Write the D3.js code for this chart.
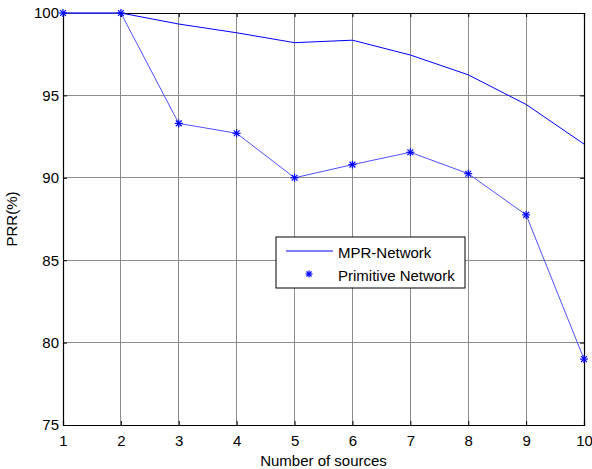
<!DOCTYPE html>
<html>
<head>
<meta charset="utf-8">
<script src="https://cdn.jsdelivr.net/npm/d3@7"></script>
<style>
  body { margin: 0; background: #fff; }
  text { font-family: "Liberation Sans", Arial, sans-serif; }
</style>
</head>
<body>
<script>
// chart data
const sources = [1, 2, 3, 4, 5, 6, 7, 8, 9, 10];
const mprNetwork = [100, 100, 99.33, 98.8, 98.2, 98.35, 97.45, 96.25, 94.45, 92.05];
const primitiveNetwork = [100, 100, 93.3, 92.7, 90.0, 90.8, 91.55, 90.25, 87.75, 79.0];
const yTicks = [75, 80, 85, 90, 95, 100];

const W = 592, H = 469;
const margin = { left: 63, top: 13, right: 8, bottom: 44 };
const FS = 15;

const svg = d3.select('body').append('svg')
    .attr('width', W)
    .attr('height', H);

const x = d3.scaleLinear().domain([1, 10]).range([margin.left, W - margin.right]);
const y = d3.scaleLinear().domain([75, 100]).range([H - margin.bottom, margin.top]);

// grid lines
svg.append('g').selectAll('line.gx')
    .data(sources.slice(1, -1))
    .join('line')
    .attr('x1', d => x(d)).attr('x2', d => x(d))
    .attr('y1', y(75)).attr('y2', y(100))
    .attr('stroke', '#8c8c8c').attr('stroke-width', 1).attr('shape-rendering', 'crispEdges');
svg.append('g').selectAll('line.gy')
    .data(yTicks.slice(1, -1))
    .join('line')
    .attr('x1', x(1)).attr('x2', x(10))
    .attr('y1', d => y(d)).attr('y2', d => y(d))
    .attr('stroke', '#8c8c8c').attr('stroke-width', 1).attr('shape-rendering', 'crispEdges');

// axes with inward ticks
svg.append('g').attr('transform', `translate(0,${y(75)})`)
    .call(d3.axisBottom(x).tickValues(sources).tickSize(-4).tickPadding(10).tickFormat(d3.format('d')));
svg.append('g').attr('transform', `translate(${x(1)},0)`)
    .call(d3.axisLeft(y).tickValues(yTicks).tickSize(-4).tickPadding(4));
svg.append('g').attr('transform', `translate(${x(10)},0)`)
    .call(d3.axisRight(y).tickValues(yTicks).tickSize(-4).tickFormat(''));
svg.append('g').attr('transform', `translate(0,${y(100)})`)
    .call(d3.axisTop(x).tickValues(sources).tickSize(-4).tickFormat(''));

svg.selectAll('.domain').attr('stroke', '#000').attr('stroke-width', 1.2);
svg.selectAll('.tick line').attr('stroke', '#000');
svg.selectAll('.tick text').attr('font-size', FS).attr('fill', '#000')
    .style('font-family', '"Liberation Sans", Arial, sans-serif');

// series lines
const line = d3.line().x((d, i) => x(sources[i])).y(d => y(d));
svg.append('path').datum(mprNetwork)
    .attr('d', line).attr('fill', 'none').attr('stroke', '#0000ff').attr('stroke-width', 1);
svg.append('path').datum(primitiveNetwork)
    .attr('d', line).attr('fill', 'none').attr('stroke', '#5050ff').attr('stroke-width', 1);

// asterisk marker
function star(g, cx, cy, r) {
    const a = r * 0.72;
    const segs = [[-r, 0, r, 0], [0, -r, 0, r], [-a, -a, a, a], [-a, a, a, -a]];
    segs.forEach(s => g.append('line')
        .attr('x1', cx + s[0]).attr('y1', cy + s[1])
        .attr('x2', cx + s[2]).attr('y2', cy + s[3])
        .attr('stroke', '#0000ff').attr('stroke-width', 1.2));
}
const markers = svg.append('g');
primitiveNetwork.forEach((v, i) => star(markers, x(sources[i]), y(v), 4));

// axis labels
svg.append('text')
    .attr('x', (x(1) + x(10)) / 2).attr('y', 466)
    .attr('text-anchor', 'middle').attr('font-size', FS)
    .text('Number of sources');
svg.append('text')
    .attr('transform', `translate(17,${(y(75) + y(100)) / 2}) rotate(-90)`)
    .attr('text-anchor', 'middle').attr('font-size', FS)
    .text('PRR(%)');

// legend
const lg = svg.append('g').attr('transform', 'translate(276,237)');
lg.append('rect').attr('width', 189).attr('height', 51)
    .attr('fill', '#fff').attr('stroke', '#000').attr('stroke-width', 1);
lg.append('line').attr('x1', 10).attr('x2', 57).attr('y1', 14).attr('y2', 14)
    .attr('stroke', '#0000ff').attr('stroke-width', 1);
lg.append('text').attr('x', 62).attr('y', 21).attr('font-size', FS).text('MPR-Network');
star(lg, 33, 37, 3.5);
lg.append('text').attr('x', 62).attr('y', 44).attr('font-size', FS).text('Primitive Network');
</script>
</body>
</html>
